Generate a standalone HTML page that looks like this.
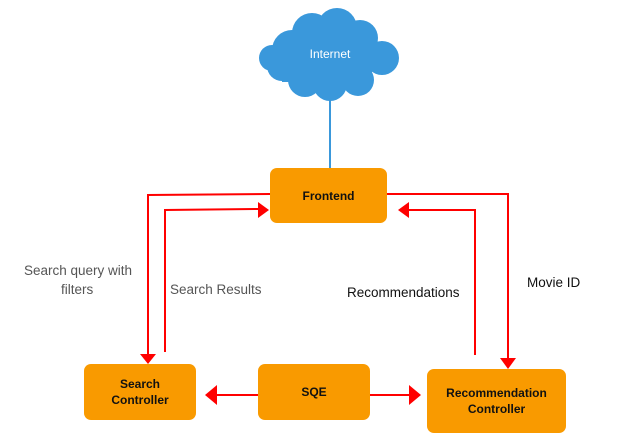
<!DOCTYPE html>
<html><head><meta charset="utf-8"><style>
body{margin:0;background:#fff;width:635px;height:445px;overflow:hidden;font-family:"Liberation Sans",sans-serif}
.box{position:absolute;background:#f99a00;border-radius:7px;display:flex;align-items:center;justify-content:center;text-align:center;font-weight:bold;font-size:12px;color:#111;line-height:16px}
.lbl{position:absolute;font-size:13.5px;color:#555;white-space:nowrap}
</style></head><body>
<svg width="635" height="445" style="position:absolute;left:0;top:0">
<g fill="#3a98db">
<circle cx="292" cy="50" r="20"/><circle cx="312" cy="33" r="20"/><circle cx="337" cy="28" r="20"/><circle cx="360" cy="38" r="18"/><circle cx="382" cy="58" r="17"/>
<circle cx="282" cy="66" r="15"/><circle cx="305" cy="80" r="17"/><circle cx="330" cy="84" r="17"/><circle cx="358" cy="80" r="16"/><circle cx="272" cy="58" r="13"/>
<rect x="282" y="40" width="90" height="42"/>
</g>
<text x="330" y="58" fill="#fff" font-size="12" text-anchor="middle" font-family="Liberation Sans">Internet</text>
<line x1="330" y1="98" x2="330" y2="168" stroke="#3a98db" stroke-width="2"/>
<g stroke="#f00" stroke-width="2" fill="none">
<polyline points="270,194 148,195 148,356"/>
<polyline points="165,352 165,210 258,209"/>
<polyline points="387,194 508,194 508,360"/>
<polyline points="475,355 475,210 408,210"/>
<line x1="258" y1="395" x2="214" y2="395"/>
<line x1="370" y1="395" x2="412" y2="395"/>
</g>
<g fill="#f00">
<polygon points="140,354 156,354 148,364"/>
<polygon points="258,202 258,218 269,210"/>
<polygon points="500,358 516,358 508,369"/>
<polygon points="409,202 409,218 398,210"/>
<polygon points="217,385 217,405 205,395"/>
<polygon points="409,385 409,405 421,395"/>
</g>
</svg>
<div class="box" style="left:270px;top:168px;width:117px;height:55px">Frontend</div>
<div class="box" style="left:84px;top:364px;width:112px;height:56px">Search<br>Controller</div>
<div class="box" style="left:258px;top:364px;width:112px;height:56px">SQE</div>
<div class="box" style="left:427px;top:369px;width:139px;height:64px">Recommendation<br>Controller</div>
<div class="lbl" style="left:24px;top:263px">Search query with</div>
<div class="lbl" style="left:61px;top:282px">filters</div>
<div class="lbl" style="left:170px;top:282px">Search Results</div>
<div class="lbl" style="left:347px;top:285px;color:#111">Recommendations</div>
<div class="lbl" style="left:527px;top:275px;color:#111">Movie ID</div>
</body></html>
